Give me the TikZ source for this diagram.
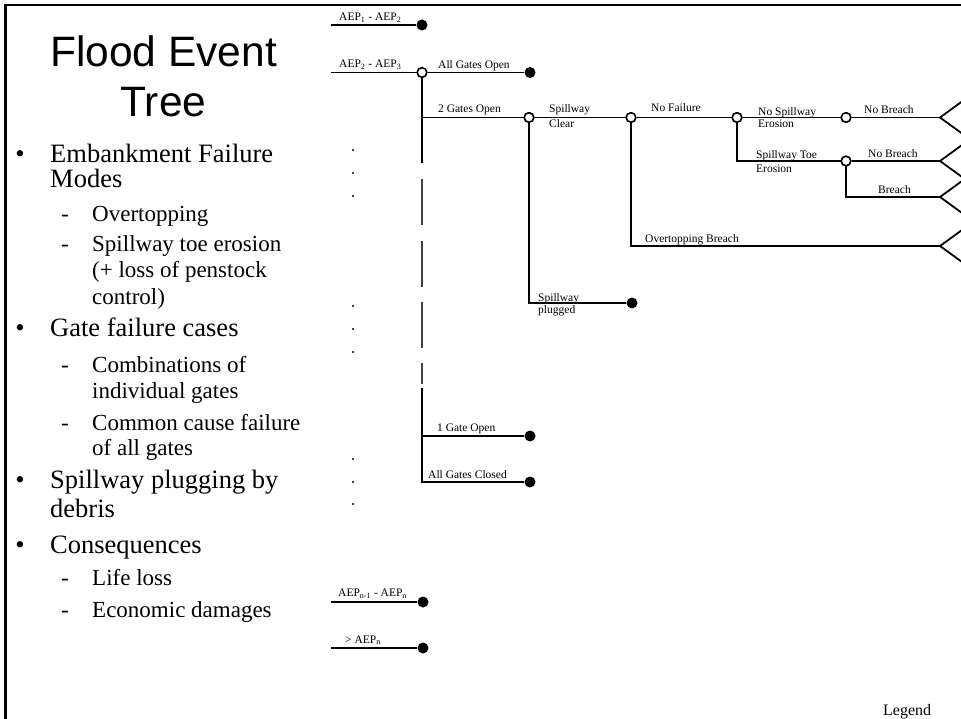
\documentclass[tikz,border=0pt]{standalone}
\usepackage{fontspec}
\setmainfont{Liberation Serif}
\newfontfamily\arialf{Liberation Sans}
\begin{document}
\begin{tikzpicture}[x=1pt,y=-1pt,
 ln/.style={line width=1.8pt},
 thinseg/.style={line width=1.3pt,black!75},
 chance/.style={circle,draw,line width=1.5pt,fill=white,minimum size=9.5pt,inner sep=0pt},
 endpt/.style={circle,fill=black,minimum size=11pt,inner sep=0pt},
 lbl/.style={anchor=base west,inner sep=0pt,font=\fontsize{11.5}{12}\selectfont},
 mainitem/.style={anchor=base west,inner sep=0pt,font=\fontsize{26.5}{26}\selectfont},
 subitem/.style={anchor=base west,inner sep=0pt,font=\fontsize{23}{24}\selectfont},
 bul/.style={anchor=base,inner sep=0pt,font=\fontsize{26.5}{26}\selectfont},
 dsh/.style={anchor=base,inner sep=0pt,font=\fontsize{23}{24}\selectfont},
 ttl/.style={anchor=base,inner sep=0pt,font=\arialf\fontsize{42.5}{50}\selectfont},
 tri/.style={line width=1.8pt,line join=miter},
 vdot/.style={fill=black}
 ]
\useasboundingbox (0,0) rectangle (961,719);
% frame
\draw[line width=2.6pt] (5.5,719) -- (5.5,5) -- (961,5);
% title
\node[ttl] (t1) at (163.5,66.7) {Flood Event};
\node[ttl] (t2) at (163.5,116.7) {Tree};
% bullet list
\node[bul] (b1) at (20,163) {•};
\node[mainitem] (m1) at (50,163) {Embankment Failure};
\node[mainitem] (m1b) at (50,188) {Modes};
\node[dsh] (d1) at (65,222) {-};
\node[subitem] (s1) at (92,222) {Overtopping};
\node[dsh] (d2) at (65,252) {-};
\node[subitem] (s2) at (92,252) {Spillway toe erosion};
\node[subitem] (s2b) at (92,278) {(+ loss of penstock};
\node[subitem] (s2c) at (92,305) {control)};
\node[bul] (b2) at (20,337) {•};
\node[mainitem] (m2) at (50,337) {Gate failure cases};
\node[dsh] (d3) at (65,372) {-};
\node[subitem] (s3) at (92,372) {Combinations of};
\node[subitem] (s3b) at (92,398) {individual gates};
\node[dsh] (d4) at (65,430) {-};
\node[subitem] (s4) at (92,430) {Common cause failure};
\node[subitem] (s4b) at (92,455) {of all gates};
\node[bul] (b3) at (20,488) {•};
\node[mainitem] (m3) at (50,488) {Spillway plugging by};
\node[mainitem] (m3b) at (50,517) {debris};
\node[bul] (b4) at (20,553) {•};
\node[mainitem] (m4) at (50,553) {Consequences};
\node[dsh] (d5) at (65,585) {-};
\node[subitem] (s5) at (92,585) {Life loss};
\node[dsh] (d6) at (65,617) {-};
\node[subitem] (s6) at (92,617) {Economic damages};
% ellipsis dots
\foreach \yy in {150,173,196,306,329,352,459,482,504}
  \fill[vdot] (353,\yy) circle (1.2);
% tree nodes
\coordinate (a1) at (331,25);
\node[endpt] (e1) at (422,25) {};
\coordinate (a2) at (331,72.5);
\node[chance] (c1) at (422,72.5) {};
\node[endpt] (e2) at (530,72.5) {};
\node[chance] (c2) at (529,117.5) {};
\node[chance] (c3) at (631,117.5) {};
\node[endpt] (e3) at (632,303) {};
\node[chance] (c4) at (737,117.5) {};
\node[chance] (c5) at (846,117.5) {};
\node[chance] (c6) at (846,161) {};
\coordinate (tp1) at (940,117.5);
\coordinate (tp2) at (940,161);
\coordinate (tp3) at (940,197);
\coordinate (tp4) at (940,246);
\coordinate (v1) at (422,163);
\coordinate (v2) at (422,388);
\coordinate (g1) at (422,436);
\node[endpt] (e4) at (530,436) {};
\node[endpt] (e5) at (530,482) {};
\coordinate (a6) at (331,602);
\node[endpt] (e6) at (423,602) {};
\coordinate (a7) at (331,648);
\node[endpt] (e7) at (423,648) {};
% dashed trunk pieces
\coordinate (q1) at (422,179); \coordinate (q2) at (422,225);
\coordinate (q3) at (422,241); \coordinate (q4) at (422,287);
\coordinate (q5) at (422,302); \coordinate (q6) at (422,348);
\coordinate (q7) at (422,363); \coordinate (q8) at (422,384);
\draw[thinseg] (q1) -- (q2);
\draw[thinseg] (q3) -- (q4);
\draw[thinseg] (q5) -- (q6);
\draw[thinseg] (q7) -- (q8);
% connectors
\draw[ln] (a1) -- (e1);
\draw[ln] (a2) -- (c1);
\draw[ln] (c1) -- (e2);
\draw[ln] (c1) -- (v1);
\draw[ln] (c1) |- (c2);
\draw[ln] (c2) -- (c3);
\draw[ln] (c2) |- (e3);
\draw[ln] (c3) -- (c4);
\draw[ln] (c3) |- (tp4);
\draw[ln] (c4) -- (c5);
\draw[ln] (c5) -- (tp1);
\draw[ln] (c4) |- (c6);
\draw[ln] (c6) -- (tp2);
\draw[ln] (c6) |- (tp3);
\draw[ln] (v2) |- (e5);
\draw[ln] (g1) -- (e4);
\draw[ln] (a6) -- (e6);
\draw[ln] (a7) -- (e7);
% consequence triangles
\foreach \p in {tp1,tp2,tp3,tp4}
  \draw[tri] (\p) -- ++(22,-16) -- ++(0,32) -- cycle;
% redraw circles on top
\foreach \x/\y in {422/72.5,529/117.5,631/117.5,737/117.5,846/117.5,846/161}
  \node[chance] at (\x,\y) {};
% labels
\node[lbl] (l1) at (339,20.5) {AEP\textsubscript{1} - AEP\textsubscript{2}};
\node[lbl] (l2) at (339,68) {AEP\textsubscript{2} - AEP\textsubscript{3}};
\node[lbl] (l3) at (438,68.5) {All Gates Open};
\node[lbl] (l4) at (438,113) {2 Gates Open};
\node[lbl] (l5) at (549,113) {Spillway};
\node[lbl] (l5b) at (549,128) {Clear};
\node[lbl] (l6) at (651,111.5) {No Failure};
\node[lbl] (l7) at (758,116) {No Spillway};
\node[lbl] (l7b) at (758,128) {Erosion};
\node[lbl] (l8) at (864,114) {No Breach};
\node[lbl] (l9) at (756,159) {Spillway Toe};
\node[lbl] (l9b) at (756,173) {Erosion};
\node[lbl] (l10) at (868,157.5) {No Breach};
\node[lbl] (l11) at (878,194) {Breach};
\node[lbl] (l12) at (645,243) {Overtopping Breach};
\node[lbl] (l13) at (538,301.5) {Spillway};
\node[lbl] (l13b) at (538,313.5) {plugged};
\node[lbl] (l14) at (437,431.5) {1 Gate Open};
\node[lbl] (l15) at (428,478) {All Gates Closed};
\node[lbl] (l16) at (338,596.5) {AEP\textsubscript{n-1} - AEP\textsubscript{n}};
\node[lbl] (l17) at (345,643) {> AEP\textsubscript{n}};
\node[anchor=base west,inner sep=0pt,font=\fontsize{16}{18}\selectfont] (leg) at (883,715) {Legend};
\end{tikzpicture}
\end{document}
